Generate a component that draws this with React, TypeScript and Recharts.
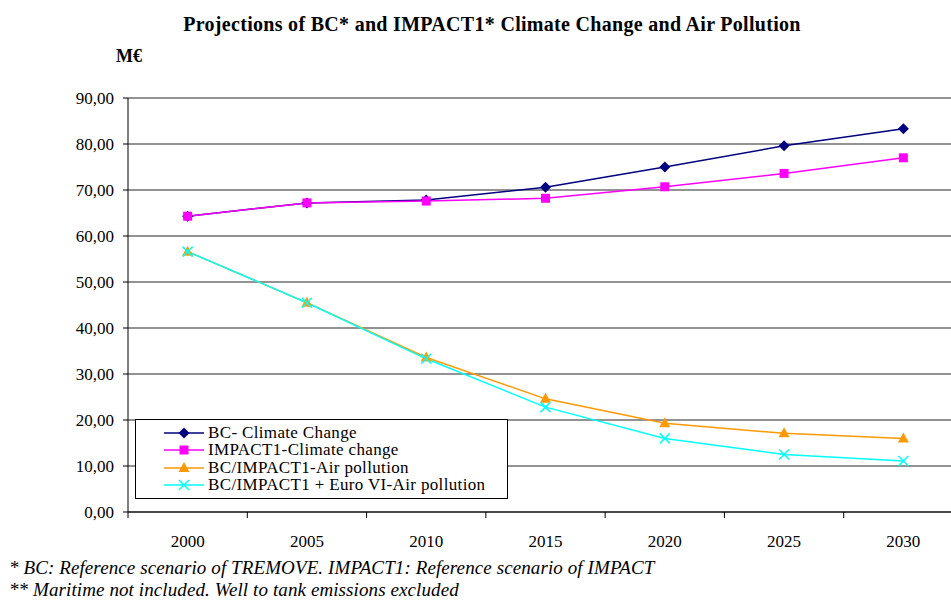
import { LineChart, Line, XAxis, YAxis, CartesianGrid } from 'recharts';

const years = [2000, 2005, 2010, 2015, 2020, 2025, 2030];
const bcClimate = [64.3, 67.2, 67.8, 70.6, 75.0, 79.6, 83.3];
const impactClimate = [64.3, 67.2, 67.6, 68.2, 70.7, 73.6, 77.0];
const airPollution = [56.6, 45.5, 33.6, 24.6, 19.3, 17.1, 16.0];
const euroSixAir = [56.6, 45.5, 33.3, 22.8, 16.0, 12.5, 11.1];
const yTicks = [0, 10, 20, 30, 40, 50, 60, 70, 80, 90];
const xBounds = [1997.5, 2002.5, 2007.5, 2012.5, 2017.5, 2022.5, 2027.5, 2032.5];

const seriesNames = {
  bc: 'BC- Climate Change',
  impact: 'IMPACT1-Climate change',
  air: 'BC/IMPACT1-Air pollution',
  euro: 'BC/IMPACT1 + Euro VI-Air pollution',
};

const data = years.map((year, i) => ({
  year,
  bc: bcClimate[i],
  impact: impactClimate[i],
  air: airPollution[i],
  euro: euroSixAir[i],
}));

const serif = '"Liberation Serif", "Times New Roman", serif';

const Marker = ({ kind, cx, cy, color }: { kind: string; cx: number; cy: number; color: string }) => {
  if (cx == null || cy == null) return null;
  if (kind === 'diamond') {
    return <path d={`M${cx},${cy - 5.5}L${cx + 5.5},${cy}L${cx},${cy + 5.5}L${cx - 5.5},${cy}Z`} fill={color} />;
  }
  if (kind === 'square') {
    return <rect x={cx - 4.5} y={cy - 4.5} width={9} height={9} fill={color} />;
  }
  if (kind === 'triangle') {
    return <path d={`M${cx},${cy - 6}L${cx + 5.5},${cy + 4}L${cx - 5.5},${cy + 4}Z`} fill={color} />;
  }
  return (
    <path
      d={`M${cx - 5},${cy - 5}L${cx + 5},${cy + 5}M${cx + 5},${cy - 5}L${cx - 5},${cy + 5}`}
      stroke={color}
      strokeWidth={1.5}
      fill="none"
    />
  );
};

const dotFor = (kind: string, color: string) => (props: any) =>
  <Marker key={`${kind}-${props.index}`} kind={kind} cx={props.cx} cy={props.cy} color={color} />;

// years get a label, half-year bounds get Excel-style tick marks between categories
const YearTick = (props: any) => {
  const { x, y, payload } = props;
  const v = payload.value;
  if (Number.isInteger(v)) {
    return (
      <text x={x} y={y + 35} textAnchor="middle" fontFamily={serif} fontSize={17} fill="#000">
        {v}
      </text>
    );
  }
  return <line x1={x} y1={y} x2={x} y2={y + 6} stroke="#000" />;
};

const series = [
  { key: 'bc', color: '#000080', kind: 'diamond' },
  { key: 'impact', color: '#FF00FF', kind: 'square' },
  { key: 'air', color: '#FF9900', kind: 'triangle' },
  { key: 'euro', color: '#00FFFF', kind: 'cross' },
];

const LegendBox = () => (
  <div
    style={{
      position: 'absolute',
      left: 135,
      top: 419,
      width: 373,
      height: 80,
      border: '1px solid #000',
      boxSizing: 'border-box',
      background: '#fff',
      fontFamily: serif,
      fontSize: 17,
    }}
  >
    {series.map((s, i) => (
      <div
        key={s.key}
        style={{ position: 'absolute', left: 0, top: 13 + i * 17.3 - 9, height: 18, display: 'flex', alignItems: 'center' }}
      >
        <svg width={70} height={18} style={{ flex: 'none' }}>
          <line x1={28} y1={9} x2={68} y2={9} stroke={s.color} strokeWidth={1.5} />
          <Marker kind={s.kind} cx={48} cy={9} color={s.color} />
        </svg>
        <span style={{ marginLeft: 2, whiteSpace: 'nowrap', letterSpacing: 0.35, lineHeight: '18px' }}>
          {seriesNames[s.key as keyof typeof seriesNames]}
        </span>
      </div>
    ))}
  </div>
);

const App = () => {
  return (
    <div
      style={{
        position: 'absolute',
        left: 0,
        top: 0,
        width: 951,
        height: 600,
        overflow: 'hidden',
        background: '#fff',
        fontFamily: serif,
      }}
    >
      <div
        style={{
          position: 'absolute',
          left: 0,
          width: 984,
          top: 13,
          textAlign: 'center',
          fontWeight: 'bold',
          fontSize: 20,
          letterSpacing: 0.3,
        }}
      >
        Projections of BC* and IMPACT1* Climate Change and Air Pollution
      </div>
      <div style={{ position: 'absolute', left: 116, top: 46, fontWeight: 'bold', fontSize: 18 }}>M€</div>
      <LineChart
        width={980}
        height={600}
        data={data}
        margin={{ top: 98, right: 17, bottom: 58, left: 68 }}
      >
        <CartesianGrid vertical={false} stroke="#000" strokeOpacity={0.85} />
        <XAxis
          dataKey="year"
          type="number"
          domain={[1997.5, 2032.5]}
          ticks={[...xBounds, ...years]}
          interval={0}
          tickSize={0}
          tickMargin={0}
          tickLine={false}
          tick={<YearTick />}
          stroke="#000"
          height={30}
        />
        <YAxis
          domain={[0, 90]}
          ticks={yTicks}
          interval={0}
          width={60}
          tickSize={5}
          tickMargin={9}
          stroke="#000"
          tick={{ fill: '#000', fontSize: 17, fontFamily: serif }}
          tickFormatter={(v: number) => v.toFixed(2).replace('.', ',')}
        />
        {series.map((s) => (
          <Line
            key={s.key}
            type="linear"
            dataKey={s.key}
            name={seriesNames[s.key as keyof typeof seriesNames]}
            stroke={s.color}
            strokeWidth={1.5}
            dot={dotFor(s.kind, s.color)}
            activeDot={false}
            isAnimationActive={false}
          />
        ))}
      </LineChart>
      <LegendBox />
      <div
        style={{
          position: 'absolute',
          left: 9,
          top: 557,
          fontStyle: 'italic',
          fontSize: 19,
          lineHeight: '22px',
          letterSpacing: 0.1,
        }}
      >
        <div>* BC: Reference scenario of TREMOVE. IMPACT1: Reference scenario of IMPACT</div>
        <div>** Maritime not included. Well to tank emissions excluded</div>
      </div>
    </div>
  );
};

export default App;
